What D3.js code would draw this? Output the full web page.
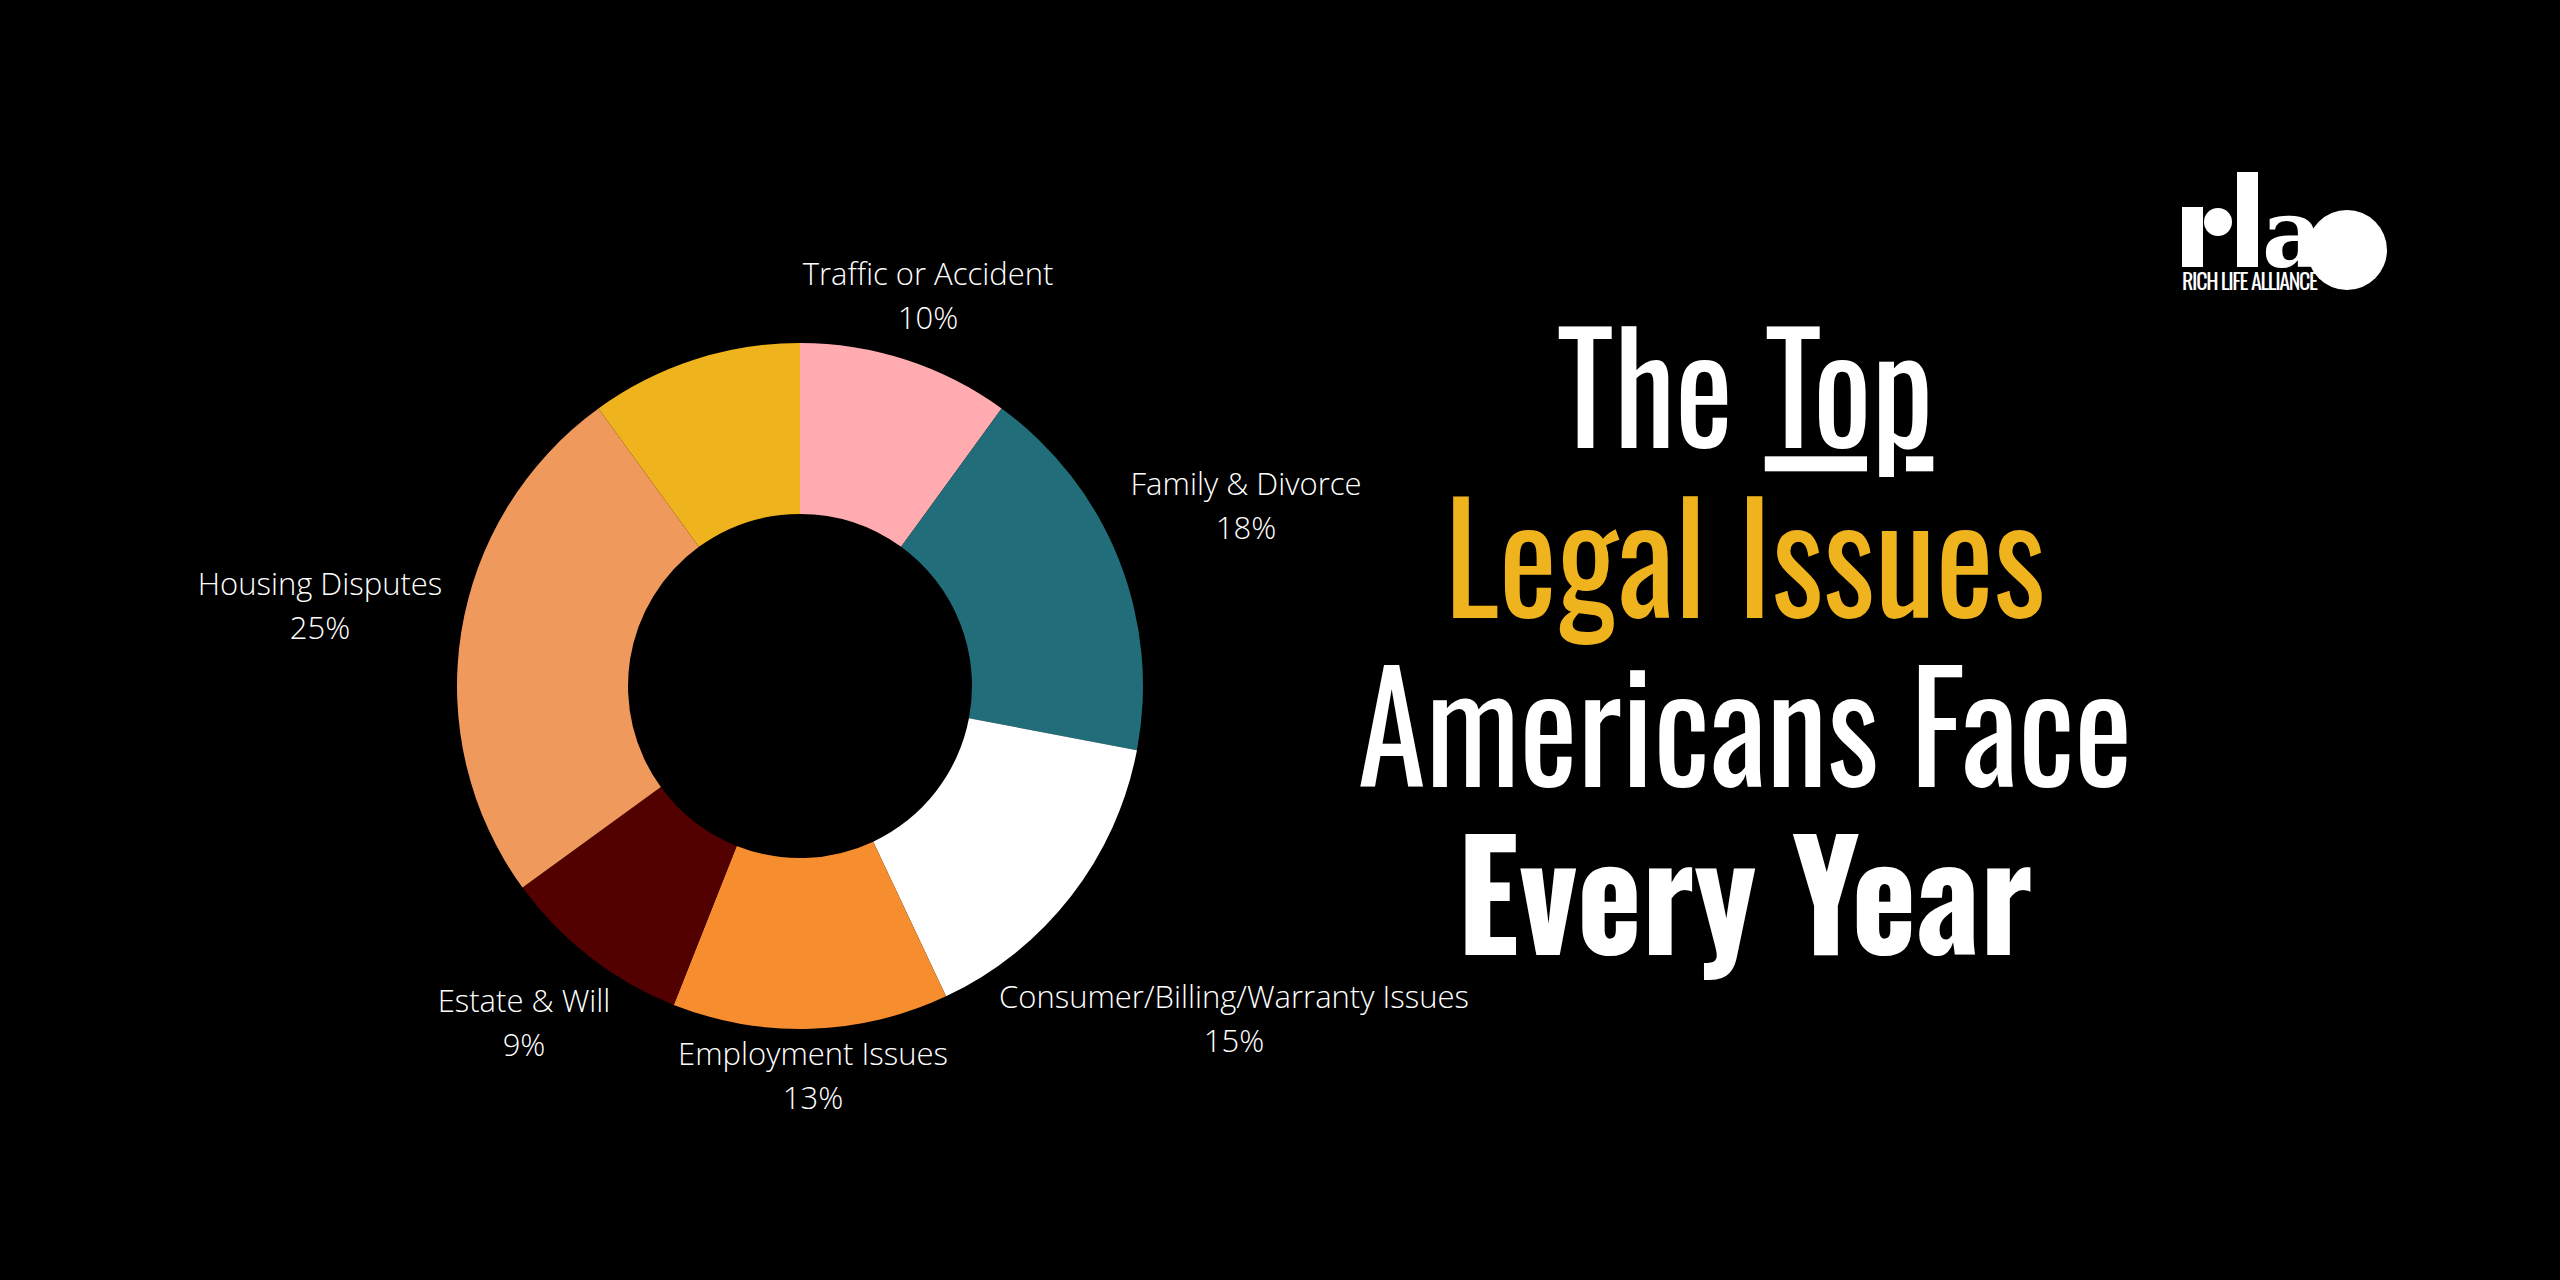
<!DOCTYPE html>
<html><head><meta charset="utf-8">
<script src="https://cdn.jsdelivr.net/npm/d3@7"></script>
<style>body{margin:0;background:#000;overflow:hidden}</style>
</head><body><svg id="c" width="2560" height="1280"></svg>
<script>
const categories = ["Traffic or Accident","Family & Divorce","Consumer/Billing/Warranty Issues","Employment Issues","Estate & Will","Housing Disputes","Other"];
const values = [10,18,15,13,9,25,10];
const colors = ["#ffabb0","#216e7a","#ffffff","#f68d2e","#520000","#f0995c","#efb31d"];
const labelPos = [[928,285],[1246,495],[1234,1008],[813,1065],[524,1012],[320,595],null];

const svg = d3.select("#c");
svg.append("rect").attr("width",2560).attr("height",1280).attr("fill","#000");
const cx=800, cy=686;
const pie = d3.pie().sort(null).value(d=>d)(values);
const arc = d3.arc().innerRadius(172).outerRadius(343);
const g = svg.append("g").attr("transform",`translate(${cx},${cy})`);
g.selectAll("path").data(pie).join("path").attr("d",arc).attr("fill",(d,i)=>colors[i]);

const lf = "'Open Sans', sans-serif";
categories.forEach((c,i)=>{
  if(!labelPos[i]) return;
  const t = svg.append("text").attr("x",labelPos[i][0]).attr("y",labelPos[i][1])
    .attr("text-anchor","middle").attr("fill","#fff").attr("font-family",lf)
    .attr("font-weight",300).attr("font-size",31);
  t.append("tspan").attr("x",labelPos[i][0]).text(c);
  t.append("tspan").attr("x",labelPos[i][0]).attr("dy",44).text(values[i]+"%");
});

const tf = "Oswald, 'Liberation Sans Narrow', 'DejaVu Sans Condensed', sans-serif";
const tx = 1745;
function line(txt,y,fill,weight){
  return svg.append("text").attr("x",tx).attr("y",y).attr("text-anchor","middle")
    .attr("fill",fill).attr("font-family",tf).attr("font-weight",weight)
    .attr("font-size",150).attr("transform",`translate(${tx},0) scale(0.92,1) translate(${-tx},0)`).text(txt);
}
const t1 = svg.append("text").attr("x",tx).attr("y",448).attr("text-anchor","middle")
  .attr("fill","#fff").attr("font-family",tf).attr("font-size",150)
  .attr("transform",`translate(${tx},0) scale(0.92,1) translate(${-tx},0)`);
t1.append("tspan").text("The ");
t1.append("tspan").attr("text-decoration","underline").text("Top");
line("Legal Issues",618,"#efb31d",400);
line("Americans Face",787,"#fff",400);
line("Every Year",955,"#fff",700);

// logo
const L = svg.append("g").attr("fill","#fff");
L.append("rect").attr("x",2182).attr("y",207).attr("width",21).attr("height",60);
L.append("circle").attr("cx",2218).attr("cy",222).attr("r",14);
L.append("rect").attr("x",2237).attr("y",172).attr("width",21).attr("height",95);
L.append("text").attr("x",2262).attr("y",267).attr("font-family","'DejaVu Serif', serif").attr("font-weight",700).attr("font-size",95).text("a");
L.append("circle").attr("cx",2347).attr("cy",250).attr("r",40);
L.append("text").attr("x",2182).attr("y",290).attr("font-family",tf).attr("font-size",22).attr("textLength",136).text("RICH LIFE ALLIANCE");
</script></body></html>
